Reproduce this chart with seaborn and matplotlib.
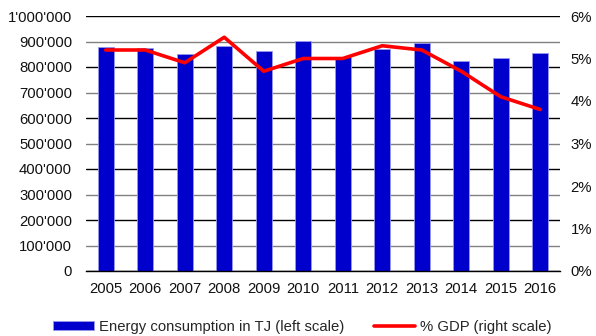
import numpy as np
import pandas as pd
import matplotlib
matplotlib.use("Agg")
import matplotlib.pyplot as plt
import seaborn as sns
from matplotlib.ticker import FuncFormatter, MultipleLocator
from matplotlib.patches import Patch
from matplotlib.lines import Line2D

years = ["2005", "2006", "2007", "2008", "2009", "2010",
         "2011", "2012", "2013", "2014", "2015", "2016"]
energy_tj = [877000, 873000, 851000, 884000, 863000, 901000,
             840000, 871000, 893000, 824000, 837000, 854000]
gdp_pct = [5.2, 5.2, 4.9, 5.5, 4.7, 5.0, 5.0, 5.3, 5.2, 4.7, 4.1, 3.8]

bar_label = "Energy consumption in TJ (left scale)"
line_label = "% GDP (right scale)"

sns.set_theme(style="white")
plt.rcParams["font.family"] = ["Liberation Sans", "DejaVu Sans"]
fs = 10.7
plt.rcParams["font.size"] = fs

df = pd.DataFrame({"year": years, "energy": energy_tj, "gdp": gdp_pct})

fig = plt.figure(figsize=(5.96, 3.36), dpi=100)
ax = fig.add_axes([86 / 596, 1 - 271 / 336, (560 - 86) / 596, (271 - 16) / 336])

bar_color = "#0000CC"
sns.barplot(data=df, x="year", y="energy", color=bar_color, width=0.41,
            edgecolor="#9999EE", linewidth=0.6, saturation=1, ax=ax, zorder=3)

ax.set_ylim(0, 1_000_000)
ax.set_xlim(-0.5, len(years) - 0.5)
ax.yaxis.set_major_locator(MultipleLocator(100_000))
ax.yaxis.set_major_formatter(FuncFormatter(lambda v, p: f"{int(v):,}".replace(",", "'")))
ax.set_xlabel("")
ax.set_ylabel("")
for s in ["top", "right", "left"]:
    ax.spines[s].set_visible(False)
ax.spines["bottom"].set_color("black")
ax.spines["bottom"].set_linewidth(1.0)
ax.spines["bottom"].set_zorder(5)
ax.tick_params(axis="both", length=0, labelsize=fs, colors="#111111")
ax.tick_params(axis="y", pad=10)
ax.tick_params(axis="x", pad=8)

# horizontal grid: grey every 100'000, black where the right-hand scale has a tick
for v in ax.get_yticks()[1:]:
    col = "black" if round(v / 100_000) % 2 == 0 else "#808080"
    ax.axhline(v, color=col, linewidth=1.0, zorder=1)

ax2 = ax.twinx()
sns.lineplot(x=np.arange(len(years)), y=df["gdp"], color="#FF0000",
             linewidth=2.6, ax=ax2, zorder=4)
ax2.set_ylim(0, 6)
ax2.yaxis.set_major_locator(MultipleLocator(1))
ax2.yaxis.set_major_formatter(FuncFormatter(lambda v, p: f"{int(round(v))}%"))
ax2.set_ylabel("")
for s in ["top", "right", "left", "bottom"]:
    ax2.spines[s].set_visible(False)
ax2.tick_params(axis="y", length=0, labelsize=fs, pad=7.5, colors="#111111")
ax2.grid(False)

handles = [Patch(facecolor=bar_color, edgecolor="#9999EE", linewidth=0.6),
           Line2D([0], [0], color="#FF0000", linewidth=2.6)]
fig.legend(handles, [bar_label, line_label], loc="center",
           bbox_to_anchor=(0.5 + 4 / 596, 1 - 327 / 336), ncol=2, frameon=False,
           fontsize=fs, handlelength=2.8, handleheight=0.5,
           columnspacing=2.0, handletextpad=0.3)

fig.savefig("out.png", dpi=100)
